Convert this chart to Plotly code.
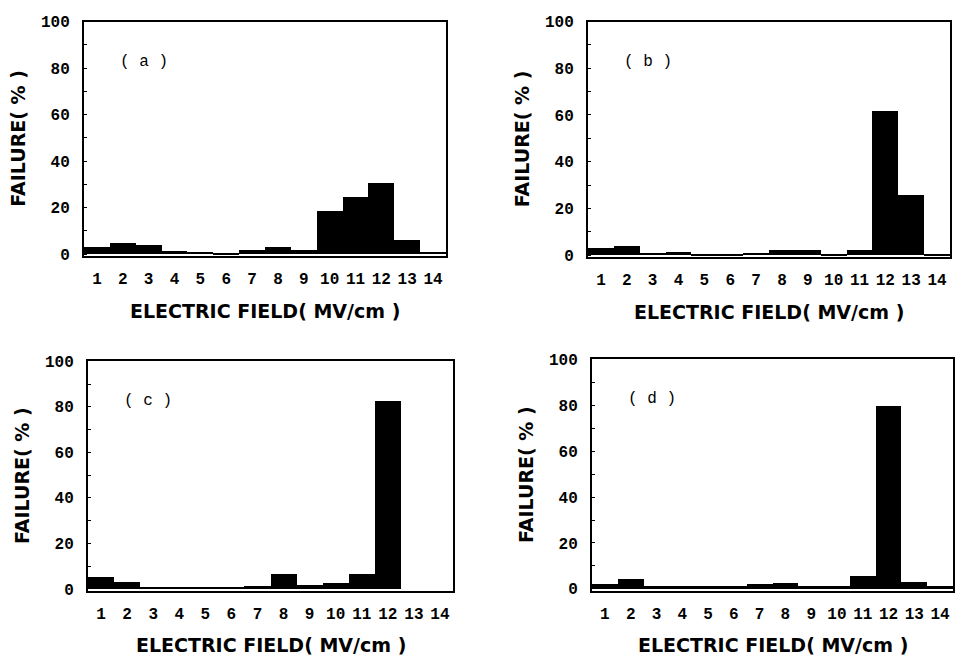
import plotly.graph_objects as go

fields = list(range(1, 15))
tick_labels = [str(v) for v in fields]
failure_a = [3.2, 4.8, 3.9, 1.5, 1.2, 0.8, 2.0, 3.2, 2.0, 18.6, 24.5, 30.6, 6.4, 1.0]
failure_b = [3.2, 3.9, 1.1, 1.5, 0.8, 0.7, 1.1, 2.5, 2.5, 0.3, 2.5, 62.0, 26.0, 0.3]
failure_c = [4.9, 2.7, 0.8, 0.8, 0.8, 0.8, 1.0, 6.2, 1.5, 2.6, 6.2, 82.4, 0.0, 0.0]
failure_d = [2.1, 4.2, 1.0, 1.0, 1.0, 1.0, 1.8, 2.5, 1.1, 1.1, 5.3, 79.4, 3.0, 1.0]
panel_labels = ["( a )", "( b )", "( c )", "( d )"]
x_title = "ELECTRIC FIELD( MV/cm )"
y_title = "FAILURE( % )"

W, H = 957, 670
# boxes in pixels: left, right, top, bottom
boxes = [(84, 446, 15, 255), (588, 950, 15, 256), (88, 453, 363, 598), (592, 953, 361, 598)]
series = [failure_a, failure_b, failure_c, failure_d]

fig = go.Figure()
mono = "Liberation Mono"
sans = "DejaVu Sans"

for i, (vals, box) in enumerate(zip(series, boxes)):
    l, r, t, b = box
    xa = "x" if i == 0 else f"x{i+1}"
    ya = "y" if i == 0 else f"y{i+1}"
    fig.add_trace(go.Bar(x=fields, y=vals, width=1.0, marker=dict(color="black", line=dict(width=0)),
                         xaxis=xa, yaxis=ya, showlegend=False))
    suffix = "" if i == 0 else str(i + 1)
    fig.update_layout(**{
        f"xaxis{suffix}": dict(domain=[l / W, r / W], anchor=ya, range=[0.5, 14.5],
                               tickvals=fields, ticktext=tick_labels, showgrid=False, zeroline=False,
                               showline=True, mirror=True, linecolor="black", linewidth=2,
                               ticks="", ticklabelstandoff=7,
                               tickfont=dict(family=mono, size=16, color="black", weight="bold")),
        f"yaxis{suffix}": dict(domain=[1 - b / H, 1 - t / H], anchor=xa, range=[-0.8, 100],
                               tickvals=[0, 20, 40, 60, 80, 100], showgrid=False, zeroline=False,
                               showline=True, mirror=True, linecolor="black", linewidth=2,
                               ticks="inside", ticklen=3, tickwidth=1, tickcolor="black",
                               minor=dict(ticks="inside", ticklen=3, dtick=10, tickcolor="black"),
                               ticklabelstandoff=9,
                               tickfont=dict(family=mono, size=16, color="black", weight="bold")),
    })
    # panel label
    fig.add_annotation(x=(l + 60) / W, y=1 - (t + 41) / H, xref="paper", yref="paper",
                       text=panel_labels[i], showarrow=False, xanchor="center", yanchor="middle",
                       font=dict(family=mono, size=16, color="black"))
    # x title
    fig.add_annotation(x=(l + r) / 2 / W, y=1 - (b + 56) / H, xref="paper", yref="paper",
                       text=x_title, showarrow=False, xanchor="center", yanchor="middle",
                       font=dict(family=sans, size=19, color="black", weight="bold"))
    # y title
    fig.add_annotation(x=(l - 66) / W, y=1 - ((t + b) / 2) / H, xref="paper", yref="paper",
                       text=y_title, showarrow=False, xanchor="center", yanchor="middle", textangle=-90,
                       font=dict(family=sans, size=19, color="black", weight="bold"))

fig.update_layout(width=W, height=H, margin=dict(l=0, r=0, t=0, b=0),
                  paper_bgcolor="white", plot_bgcolor="white", bargap=0)
fig.write_html("out.html", config={"displayModeBar": False},
               post_script="document.body.style.margin='0px';document.body.style.overflow='hidden';")
